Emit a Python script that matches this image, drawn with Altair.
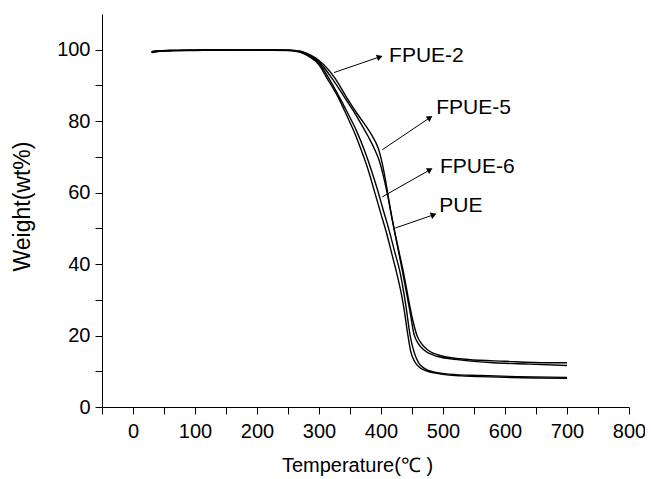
import altair as alt
import pandas as pd
import numpy as np

FONT = "Liberation Sans"

# ---- data ----
T_PUE = [30, 40, 60, 100, 150, 200, 250, 270, 285, 300, 313, 330, 345, 358, 369, 380, 390, 400, 410, 418, 426, 433, 438, 443, 448, 454, 463, 479, 490, 506, 530, 560, 600, 650, 700]
W_PUE = [99.2, 99.5, 99.7, 99.8, 99.9, 99.9, 99.8, 99.3, 98.0, 95.8, 92.0, 87.0, 81.5, 76.5, 71.5, 66.0, 60.0, 54.0, 48.0, 42.5, 37.0, 31.5, 26.5, 20.5, 15.5, 12.8, 11.0, 9.8, 9.4, 9.0, 8.7, 8.5, 8.3, 8.1, 8.0]

T_FPUE6 = [30, 40, 60, 100, 150, 200, 250, 270, 285, 300, 316, 332, 347, 360, 374, 385, 394, 403, 413, 422, 431, 440, 447, 454, 461, 470, 485, 510, 560, 620, 700]
W_FPUE6 = [99.4, 99.6, 99.8, 99.9, 100, 100, 99.9, 99.4, 98.2, 96.2, 92.0, 87.0, 82.0, 77.5, 71.5, 66.0, 61.0, 55.5, 49.5, 43.5, 37.5, 28.5, 20.0, 15.0, 12.3, 10.8, 9.8, 9.2, 8.8, 8.5, 8.3]

T_FPUE5 = [30, 40, 60, 100, 150, 200, 250, 270, 285, 300, 321, 340, 355, 366, 380, 390, 398, 405, 411, 418, 426, 434, 440, 447, 453, 460, 469, 490, 527, 582, 640, 700]
W_FPUE5 = [99.5, 99.7, 99.8, 99.9, 100, 100, 99.9, 99.5, 98.4, 96.6, 92.0, 87.0, 83.0, 79.8, 75.5, 72.0, 68.5, 63.8, 59.0, 52.5, 45.5, 38.5, 33.0, 26.5, 20.5, 17.8, 16.0, 14.2, 13.2, 12.4, 12.0, 11.6]

T_FPUE2 = [30, 40, 60, 100, 150, 200, 250, 270, 285, 300, 326, 345, 360, 373, 386, 396, 402, 408, 414, 421, 429, 437, 444, 451, 458, 465, 475, 500, 540, 600, 668, 700]
W_FPUE2 = [99.3, 99.6, 99.8, 99.9, 100, 100, 99.9, 99.6, 98.6, 97.0, 92.0, 86.5, 82.5, 79.3, 75.8, 72.2, 68.2, 62.8, 56.5, 50.0, 43.5, 37.0, 30.5, 24.5, 20.0, 17.8, 16.0, 14.2, 13.3, 12.8, 12.4, 12.4]

# annotation labels and arrows
LABELS = ["FPUE-2", "FPUE-5", "FPUE-6", "PUE"]
LABEL_T = [413, 489, 495, 494]
LABEL_W = [98.3, 83.8, 67.2, 56.3]
ARROW_T0 = [324, 402, 402, 423]
ARROW_W0 = [93.6, 72.0, 58.8, 50.1]
ARROW_T1 = [398, 479, 479, 485]
ARROW_W1 = [98.0, 81.0, 66.4, 53.8]

X_DOMAIN = [-50, 800]
Y_DOMAIN = [0, 110]
X_TICKS = list(range(-50, 801, 50))
Y_TICKS = list(range(0, 101, 10))

W_PX, H_PX = 527, 393

frames = []
for name, t, w in [("PUE", T_PUE, W_PUE), ("FPUE-6", T_FPUE6, W_FPUE6),
                   ("FPUE-5", T_FPUE5, W_FPUE5), ("FPUE-2", T_FPUE2, W_FPUE2)]:
    frames.append(pd.DataFrame({"T": t, "W": w, "s": name}))
curves = pd.concat(frames, ignore_index=True)

sx = W_PX / (X_DOMAIN[1] - X_DOMAIN[0])
sy = H_PX / (Y_DOMAIN[1] - Y_DOMAIN[0])
angles = []
for t0, w0, t1, w1 in zip(ARROW_T0, ARROW_W0, ARROW_T1, ARROW_W1):
    a = np.degrees(np.arctan2(-(w1 - w0) * sy, (t1 - t0) * sx))
    angles.append(float(a % 360))

ann = pd.DataFrame({
    "label": LABELS, "lt": LABEL_T, "lw": LABEL_W,
    "t0": ARROW_T0, "w0": ARROW_W0, "t1": ARROW_T1, "w1": ARROW_W1,
    "ang": angles,
})

xscale = alt.Scale(domain=X_DOMAIN, nice=False, zero=False)
yscale = alt.Scale(domain=Y_DOMAIN, nice=False)

xaxis = alt.Axis(
    values=X_TICKS, tickCount=100, labelFlush=False,
    labelExpr="datum.value % 100 === 0 ? datum.label : ''",
    title="Temperature(℃ )",
    titleX=255, titleY=58, titleAlign="center", titleBaseline="middle",
    titleFontSize=20,
    labelPadding=7,
)
yaxis = alt.Axis(
    values=Y_TICKS, tickCount=100, labelFlush=False,
    labelExpr="datum.value % 20 === 0 ? datum.label : ''",
    title="Weight(wt%)",
    titleX=-80, titleY=192, titleAngle=270, titleAlign="center", titleBaseline="middle",
    titleFontSize=23,
    labelPadding=5,
)

lines = alt.Chart(curves).mark_line(color="black", strokeWidth=1.4, interpolate="monotone").encode(
    x=alt.X("T:Q", scale=xscale, axis=xaxis),
    y=alt.Y("W:Q", scale=yscale, axis=yaxis),
    detail="s:N",
)

arrows = alt.Chart(ann).mark_rule(color="black", strokeWidth=1).encode(
    x=alt.X("t0:Q", scale=xscale), y=alt.Y("w0:Q", scale=yscale),
    x2="t1:Q", y2="w1:Q",
)

heads = alt.Chart(ann).mark_point(shape="triangle-right", filled=True, color="black", size=45, opacity=1).encode(
    x=alt.X("t1:Q", scale=xscale), y=alt.Y("w1:Q", scale=yscale),
    angle=alt.Angle("ang:Q", scale=None),
)

texts = alt.Chart(ann).mark_text(align="left", baseline="middle", fontSize=21, font=FONT, color="black").encode(
    x=alt.X("lt:Q", scale=xscale), y=alt.Y("lw:Q", scale=yscale), text="label:N",
)

chart = alt.layer(lines, arrows, heads, texts).properties(
    width=W_PX, height=H_PX,
    autosize=alt.AutoSizeParams(type="none"),
    padding={"left": 94, "top": 6, "right": 16, "bottom": 72},
    background="white",
).configure_view(stroke=None).configure_axis(
    grid=False, domainColor="black", domainWidth=1, tickColor="black", tickSize=7,
    tickWidth=1, labelFont=FONT, labelFontSize=20, labelColor="black",
    titleFont=FONT, titleColor="black", titleFontWeight="normal",
    labelOverlap=False,
)

chart.save("out.html", embed_options={"renderer": "svg", "actions": False})
